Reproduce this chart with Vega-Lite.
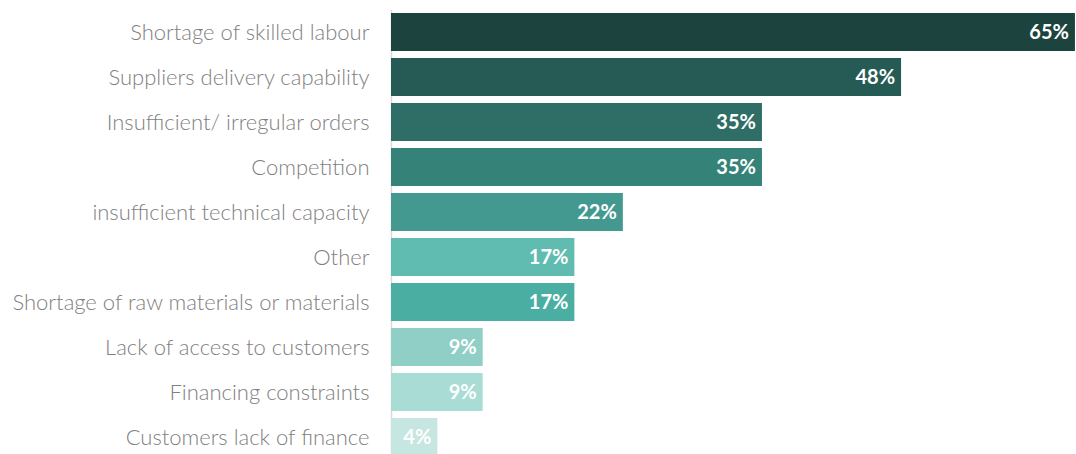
{
  "$schema": "https://vega.github.io/schema/vega-lite/v6.json",
  "autosize": {"type": "none"},
  "padding": {"left": 391, "top": 9.5, "right": 0, "bottom": 0},
  "width": 685,
  "height": 450,
  "background": "white",
  "config": {"view": {"stroke": null}},
  "data": {"values": [
    {"cat": "Shortage of skilled labour", "v": 0.649, "c": "#1c433e"},
    {"cat": "Suppliers delivery capability", "v": 0.484, "c": "#265b55"},
    {"cat": "Insufficient/ irregular orders\u00a0\u00a0", "v": 0.352, "c": "#2f6e66"},
    {"cat": "Competition", "v": 0.352, "c": "#358278"},
    {"cat": "insufficient technical capacity", "v": 0.22, "c": "#43998f"},
    {"cat": "Other", "v": 0.174, "c": "#60bbb0"},
    {"cat": "Shortage of raw materials or materials", "v": 0.174, "c": "#4aaea2"},
    {"cat": "Lack of access to customers", "v": 0.087, "c": "#90cfc6"},
    {"cat": "Financing constraints", "v": 0.087, "c": "#a9dcd5"},
    {"cat": "Customers lack of finance\u00a0\u00a0", "v": 0.044, "c": "#c6e6e1"}
  ]},
  "encoding": {
    "y": {"field": "cat", "type": "nominal", "sort": null,
      "scale": {"paddingInner": 0.156, "paddingOuter": 0.078},
      "axis": {"title": null, "ticks": false, "domainColor": "#d9d9d9", "domainWidth": 1.5,
        "labelFont": "Lato", "labelFontSize": 22, "labelFontWeight": 300, "labelColor": "#7f7f7f", "labelPadding": 22, "labelLimit": 400, "labelOffset": 1}},
    "x": {"field": "v", "type": "quantitative", "scale": {"domain": [0, 0.65], "nice": false}, "axis": null}
  },
  "layer": [
    {"mark": {"type": "bar"}, "encoding": {"color": {"field": "c", "type": "nominal", "scale": null}}},
    {"mark": {"type": "text", "align": "right", "dx": -6, "dy": 1, "font": "Lato", "fontWeight": "bold", "fontSize": 20, "color": "white"},
      "encoding": {"text": {"field": "v", "type": "quantitative", "format": ".0%"}}}
  ]
}
